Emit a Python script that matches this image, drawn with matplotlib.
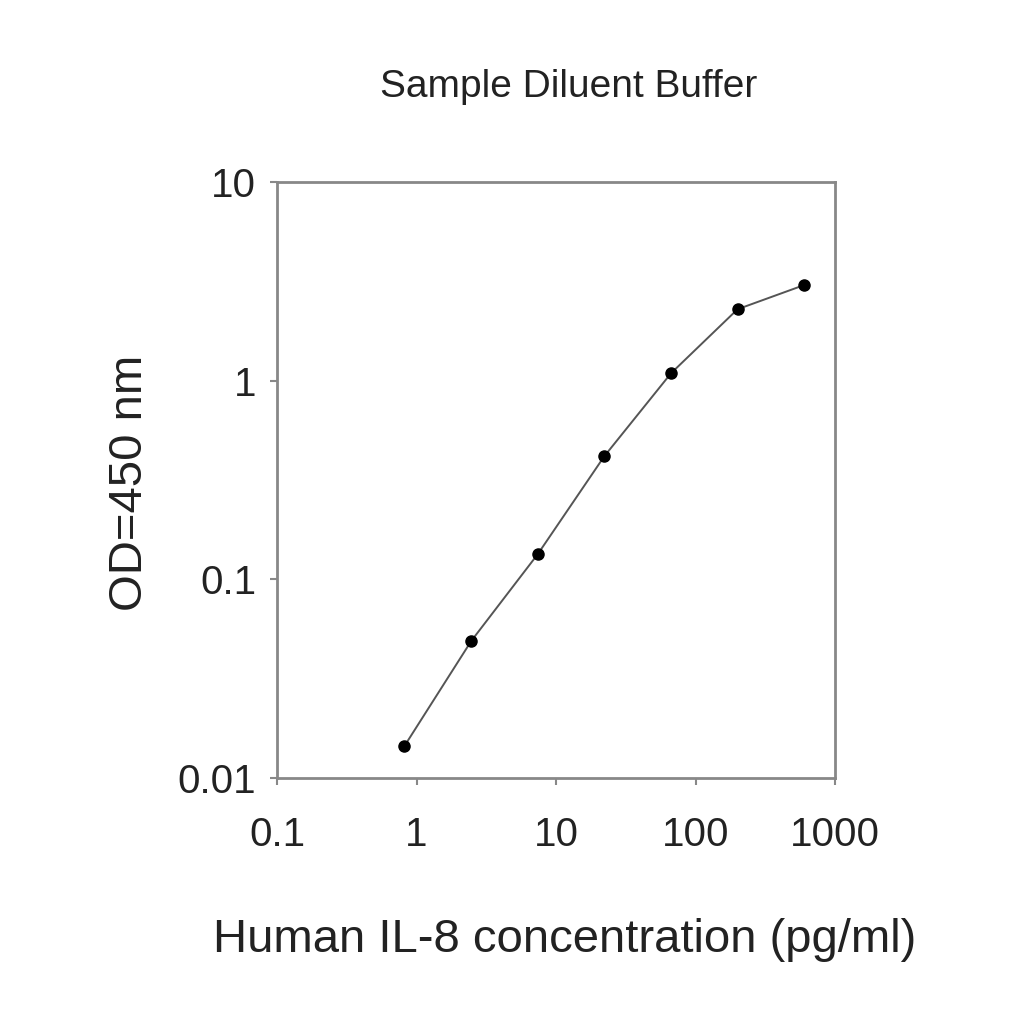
import numpy as np
import matplotlib.pyplot as plt
from matplotlib.ticker import FixedLocator, FixedFormatter, NullLocator

plt.rcParams['font.family'] = ['Liberation Sans', 'DejaVu Sans']

# Human IL-8 standard curve, sample diluent buffer
conc = [0.82, 2.47, 7.4, 22.2, 66.7, 200, 600]
od = [0.0145, 0.049, 0.134, 0.417, 1.09, 2.29, 3.03]

xticks = [0.1, 1, 10, 100, 1000]
xlabels = ['0.1', '1', '10', '100', '1000']
yticks = [0.01, 0.1, 1, 10]
ylabels = ['0.01', '0.1', '1', '10']

fig = plt.figure(figsize=(10.24, 10.24), dpi=100)
ax = fig.add_axes([0.2705, 0.2402, 0.545, 0.582])

ax.plot(conc, od, color='#555555', lw=1.4, marker='o', ms=8,
        mfc='black', mec='black', zorder=3)

ax.set_xscale('log')
ax.set_yscale('log')
ax.set_xlim(0.1, 1000)
ax.set_ylim(0.01, 10)

ax.xaxis.set_major_locator(FixedLocator(xticks))
ax.xaxis.set_major_formatter(FixedFormatter(xlabels))
ax.yaxis.set_major_locator(FixedLocator(yticks))
ax.yaxis.set_major_formatter(FixedFormatter(ylabels))
ax.xaxis.set_minor_locator(NullLocator())
ax.yaxis.set_minor_locator(NullLocator())

for s in ax.spines.values():
    s.set_color('#888888')
    s.set_linewidth(2)

ax.tick_params(axis='x', length=5, width=1.5, color='#888888', labelsize=29, pad=22, labelcolor='#222222')
ax.tick_params(axis='y', length=5, width=1.5, color='#888888', labelsize=29, pad=10, labelcolor='#222222')

ax.set_xlabel('Human IL-8 concentration (pg/ml)', fontsize=34, color='#222222')
ax.xaxis.label.set_va('center')
ax.xaxis.set_label_coords(0.516, -0.272)
ax.set_ylabel('OD=450 nm', fontsize=34, color='#222222')
ax.yaxis.label.set_va('center')
ax.yaxis.set_label_coords(-0.263, 0.495)

fig.text(0.555, 1 - 87 / 1024, 'Sample Diluent Buffer', fontsize=28,
         ha='center', va='center', color='#222222')

fig.savefig('out.png', dpi=100)
